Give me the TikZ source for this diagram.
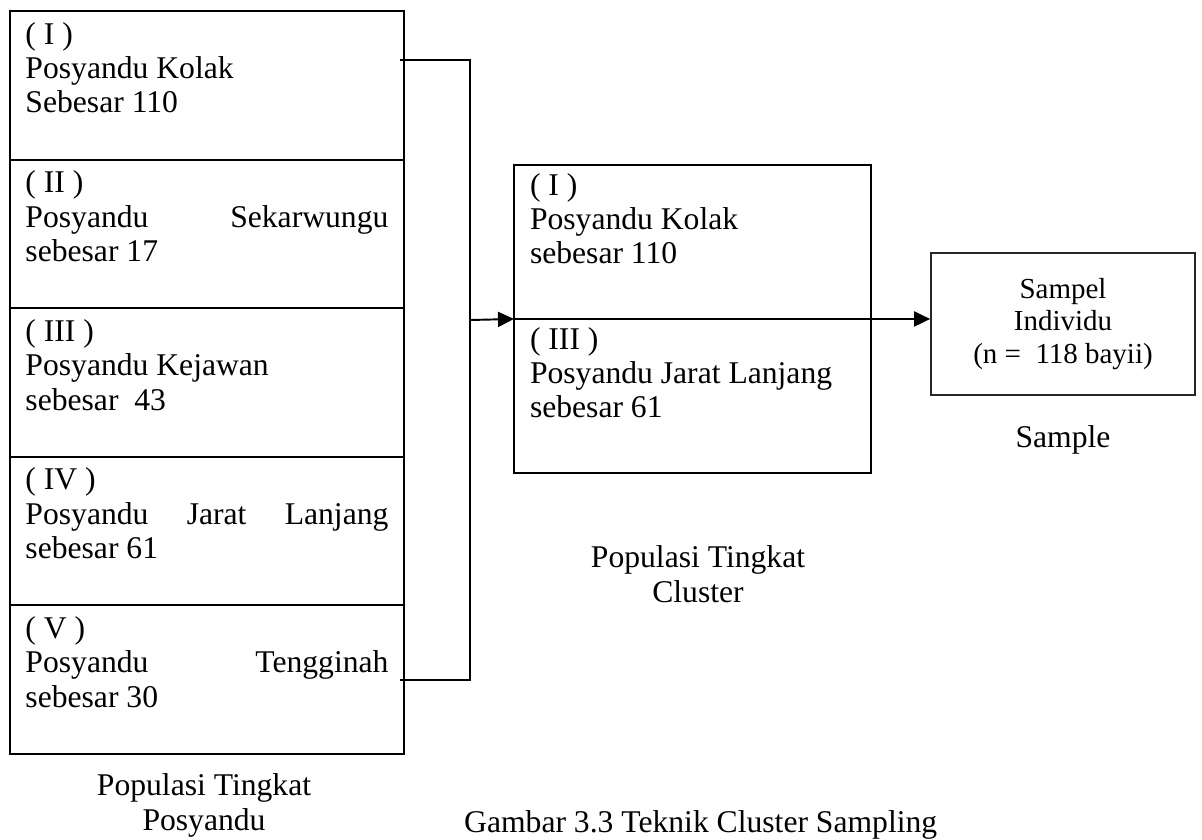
\documentclass[tikz,border=0pt]{standalone}
\usepackage{fontspec}
\setmainfont{Liberation Serif}
\usetikzlibrary{positioning, arrows.meta}

\tikzstyle{posbox} = [rectangle,
draw=black,
line width=1.2pt,
outer sep=0pt,
inner xsep=0.31cm,
inner ysep=0.18cm,
minimum width=7.88cm]
\tikzstyle{clusbox} = [rectangle,
draw=black,
line width=1.2pt,
outer sep=0pt,
inner xsep=0.32cm,
inner ysep=0.12cm,
minimum width=7.14cm]
\tikzstyle{sampbox} = [rectangle,
draw=black!85,
line width=1pt,
minimum width=5.28cm,
minimum height=2.84cm,
text centered,
align=center,
font=\fontsize{16.5}{18.7}\selectfont]
\tikzstyle{caption} = [align=center, anchor=base]
\tikzstyle{line} = [line width=1.1pt]
\tikzstyle{arrow} = [line width=1.1pt,-{Triangle[length=0.32cm,width=0.3cm]}]

% text block pinned to the top of a box
\newcommand{\isi}[3]{\parbox[c][#1][t]{#2}{\strut#3}}

\begin{document}
\begin{tikzpicture}[x=0.02cm, y=-0.02cm, every node/.style={font=\fontsize{18}{19.6}\selectfont}]
\useasboundingbox (0,0) rectangle (1202,839);

% Populasi tingkat posyandu
\node (p1) [posbox, anchor=north west] at (10,11) {\isi{2.612cm}{7.26cm}{( I )\\Posyandu Kolak\\Sebesar 110}};
\node (p2) [posbox, below=0pt of p1] {\isi{2.612cm}{7.26cm}{( II )\\Posyandu\hfill Sekarwungu\\sebesar 17}};
\node (p3) [posbox, below=0pt of p2] {\isi{2.612cm}{7.26cm}{( III )\\Posyandu Kejawan\\sebesar~ 43}};
\node (p4) [posbox, below=0pt of p3] {\isi{2.612cm}{7.26cm}{( IV )\\Posyandu\hfill Jarat\hfill Lanjang\\sebesar 61}};
\node (p5) [posbox, below=0pt of p4] {\isi{2.612cm}{7.26cm}{( V )\\Posyandu\hfill Tengginah\\sebesar 30}};

% Populasi tingkat cluster
\node (c1) [clusbox, anchor=north west] at (514,165) {\isi{2.84cm}{6.5cm}{( I )\\Posyandu Kolak\\sebesar 110}};
\node (c3) [clusbox, below=0pt of c1] {\isi{2.84cm}{6.5cm}{( III )\\Posyandu Jarat Lanjang\\sebesar 61}};

% Sampel
\node (samp) [sampbox] at (1063,324) {Sampel\\Individu\\(n =~ 118 bayii)};

% Labels (base = last line)
\node (lposy) [caption] at (204,830) {Populasi Tingkat\\Posyandu};
\node (lclus) [caption] at (698,602) {Populasi Tingkat\\Cluster};
\node (lsamp) [caption] at (1063,447) {Sample};
\node (judul) [anchor=base west] at (458,832) {Gambar 3.3 Teknik Cluster Sampling};

% Connections
\coordinate (jn) at (470,320);
\draw [line] ([xshift=-0.08cm, yshift=0.5cm]p1.east) -| (jn) |- ([xshift=-0.08cm]p5.east);
\draw [arrow] (jn) -- (c1.south west);
\draw [arrow] (c1.south east) -- (c1.south east -| samp.west);

\end{tikzpicture}
\end{document}
